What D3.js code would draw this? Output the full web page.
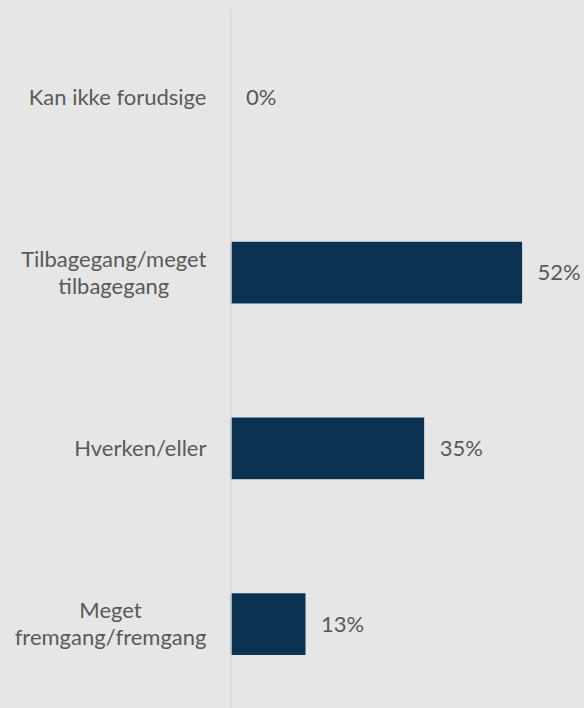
<!DOCTYPE html>
<html>
<head>
<meta charset="utf-8">
<script src="https://cdn.jsdelivr.net/npm/d3@7"></script>
<style>
  html, body { margin: 0; padding: 0; background: #e7e6e6; }
  #chart text { font-family: Lato, 'Open Sans', sans-serif; fill: #595959; }
</style>
</head>
<body>
<div id="chart"></div>
<script>
const categories = [
  'Kan ikke forudsige',
  'Tilbagegang/meget\ntilbagegang',
  'Hverken/eller',
  'Meget\nfremgang/fremgang',
]
// shares in percent (labels are rounded)
const values = [0, 52.1, 34.6, 13.4]

function bar_chart(root) {
  const width = 584,
    height = 708,
    axisX = 230.5,
    fontSize = 22

  const svg = d3
    .select(document.querySelector(`#${root}`))
    .append('svg')
    .attr('width', width)
    .attr('height', height)

  const y = d3
    .scaleBand()
    .domain(categories)
    .range([9, 712])
    .paddingInner(0.649)
    .paddingOuter(0.3245)

  const x = d3
    .scaleLinear()
    .domain([0, 52.1])
    .range([axisX, axisX + 291.6])

  // bars
  svg
    .selectAll('rect.bar')
    .data(values)
    .enter()
    .append('rect')
    .attr('class', 'bar')
    .attr('x', x(0))
    .attr('y', (d, i) => y(categories[i]))
    .attr('width', d => x(d) - x(0))
    .attr('height', y.bandwidth())
    .attr('fill', '#0b3250')

  // category axis
  const axis = svg
    .append('g')
    .attr('transform', `translate(${axisX}, 0)`)
    .call(d3.axisLeft(y).tickSize(0).tickPadding(24))

  axis.select('.domain').attr('stroke', '#d9d9d9').attr('stroke-width', 1.5)

  // multi-line labels: block is right-aligned, lines centred within it
  axis.selectAll('.tick text').each(function(d) {
    const lines = d.split('\n')
    const t = d3
      .select(this)
      .text(null)
      .attr('font-size', fontSize)
      .attr('dy', null)
      .attr('text-anchor', 'middle')
    const lh = 27
    const spans = lines.map((line, i) =>
      t.append('tspan')
        .attr('y', (i - (lines.length - 1) / 2) * lh)
        .attr('dy', '0.35em')
        .text(line)
    )
    const maxW = d3.max(spans, s => s.node().getComputedTextLength())
    spans.forEach(s => s.attr('x', -24 - maxW / 2))
  })

  // value labels
  svg
    .selectAll('text.value')
    .data(values)
    .enter()
    .append('text')
    .attr('class', 'value')
    .attr('x', d => x(d) + 15.5)
    .attr('y', (d, i) => y(categories[i]) + y.bandwidth() / 2)
    .attr('dy', '0.35em')
    .attr('font-size', fontSize)
    .text(d => `${Math.round(d)}%`)
}

bar_chart('chart')
</script>
</body>
</html>
